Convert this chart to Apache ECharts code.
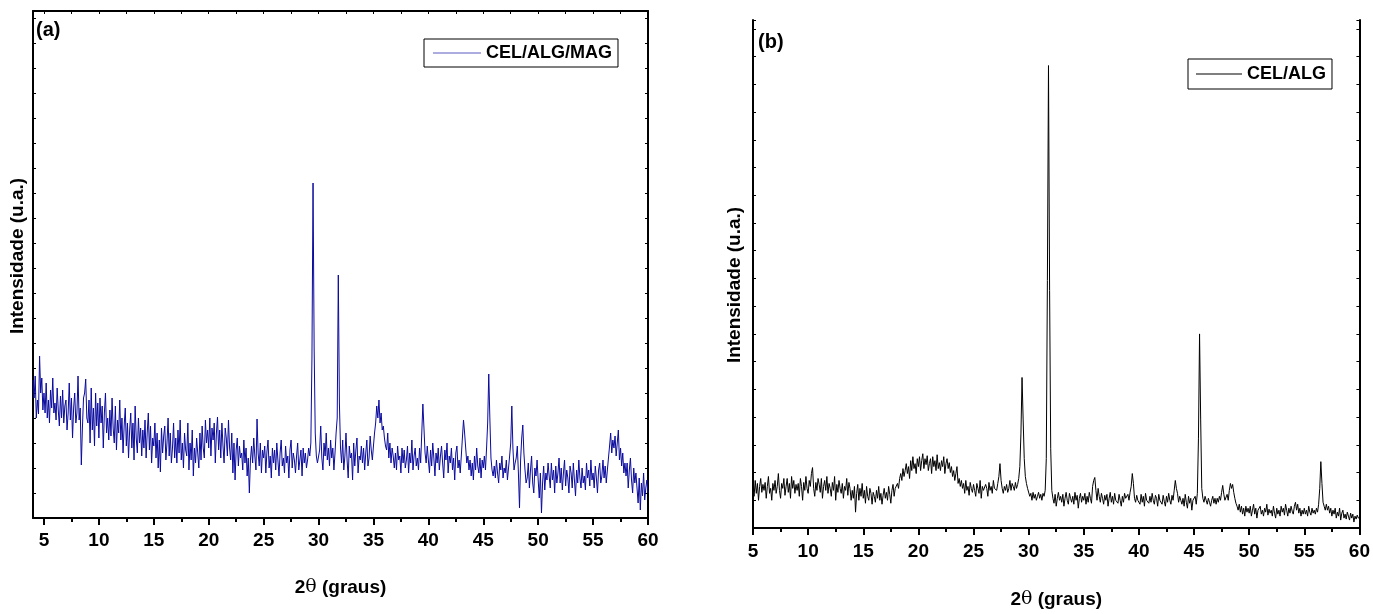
<!DOCTYPE html>
<html>
<head>
<meta charset="utf-8">
<script src="https://cdn.jsdelivr.net/npm/echarts@6.0.0/dist/echarts.min.js"></script>
<style>html,body{margin:0;padding:0;background:#fff;}#c{width:1373px;height:614px;}</style>
</head>
<body>
<div id="c"></div>
<script>
// ---------- DATA ----------
const seriesNameA = 'CEL/ALG/MAG';
const seriesNameB = 'CEL/ALG';
const xStartA = 4.0, xStepA = 0.1;
const xStartB = 5.0, xStepB = 0.1;
const xTickLabelsA = [5,10,15,20,25,30,35,40,45,50,55,60];
const xMinorTicksA = [7.5,12.5,17.5,22.5,27.5,32.5,37.5,42.5,47.5,52.5,57.5];
const xTopTicksA = [5,7.5,10,12.5,15,17.5,20,22.5,25,27.5,30,32.5,35,37.5,40,42.5,45,47.5,50,52.5,55,57.5,60];

// intensity (u.a.), 0.1 degree steps from 4.0 to 60.0
const intensityA = [
138,120,142,100,118,104,162,125,140,108,
125,105,135,100,118,95,128,110,140,105,
115,98,130,108,92,122,100,128,95,112,
118,88,105,135,98,120,80,110,125,95,
105,142,98,110,53,90,120,125,139,100,
95,118,75,130,88,110,72,125,92,115,
80,120,95,112,70,105,125,85,100,78,
108,82,120,90,75,112,68,98,85,118,
78,100,65,92,110,72,95,60,88,105,
70,95,58,112,80,65,100,75,90,62,
88,70,98,60,85,105,68,92,55,80,
72,95,60,85,50,78,46,90,65,82,
92,58,75,100,62,85,55,70,95,60,
80,55,88,65,98,58,75,50,85,68,
62,95,48,75,58,88,42,70,55,80,
65,50,85,58,92,70,60,98,75,88,
70,100,62,90,78,95,55,85,101,68,
88,60,95,72,55,90,80,62,98,70,
58,85,45,75,38,68,80,52,72,60,
65,48,78,55,70,42,60,25,58,72,
55,80,62,48,99,65,52,75,45,68,
60,72,45,66,78,50,62,40,70,55,
68,48,75,58,42,65,78,52,60,45,
72,55,62,40,68,78,50,65,58,45,
62,75,48,58,68,42,70,55,65,50,
58,70,62,75,160,335,170,85,62,55,
55,68,92,60,48,75,62,85,58,70,
52,78,60,70,48,65,85,100,243,115,
70,55,78,48,62,85,58,40,72,60,
65,38,75,52,68,80,45,62,58,72,
55,70,48,65,78,52,60,82,68,58,
72,85,95,112,100,118,95,105,88,92,
80,72,68,85,60,75,55,70,62,50,
65,48,72,58,62,45,70,55,68,50,
58,72,45,65,55,78,48,62,70,52,
60,48,70,55,85,114,90,65,55,72,
58,45,68,52,75,60,42,65,55,70,
48,62,72,55,40,68,58,75,45,62,
55,70,48,60,38,65,72,50,58,45,
62,80,98,85,70,55,62,48,58,42,
55,38,62,48,70,52,45,60,40,58,
50,62,48,70,95,144,100,60,48,42,
52,40,58,45,35,55,48,62,40,50,
45,58,38,50,62,75,112,70,48,55,
60,72,45,10,58,80,93,65,48,35,
40,55,30,48,62,35,25,50,42,58,
38,20,45,5,35,52,28,45,38,55,
42,30,55,38,48,25,52,35,45,60,
35,50,28,45,58,32,48,40,25,52,
45,30,55,38,22,48,35,58,40,30,
50,35,42,28,55,40,48,32,58,38,
45,30,52,40,25,48,55,35,42,58,
40,52,35,48,60,72,85,65,78,70,
82,62,75,88,58,70,52,65,45,55,
42,55,30,48,60,38,25,50,35,45,
30,15,40,8,35,22,45,18,30,38,
25
];

// intensity (u.a.), 0.1 degree steps from 5.0 to 60.0
const intensityB = [
40,32,48,35,45,28,42,50,36,44,
38,46,30,42,52,35,40,28,45,38,
48,35,42,55,38,30,45,40,50,33,
42,50,36,45,30,52,40,48,35,44,
38,45,32,50,42,28,46,38,52,40,
35,48,42,55,61,40,32,46,38,50,
44,36,50,30,42,48,38,52,35,45,
40,32,46,38,52,28,44,36,48,40,
35,45,30,42,38,50,33,46,40,28,
38,30,42,16,35,44,28,40,32,45,
30,38,25,42,32,28,40,35,24,36,
32,26,38,30,42,28,35,24,33,40,
30,36,28,42,34,25,38,44,32,40,
38,45,40,50,55,48,60,52,58,65,
55,62,50,68,58,72,60,65,55,70,
62,72,58,68,75,60,70,64,73,58,
65,70,55,72,62,68,58,74,60,66,
58,68,62,72,55,65,70,60,66,56,
62,52,58,48,55,62,45,50,42,48,
40,45,35,48,38,42,33,46,40,36,
44,38,32,45,40,35,48,30,42,38,
36,44,40,32,46,38,42,35,48,40,
42,38,45,52,65,48,40,35,42,38,
44,36,40,48,38,45,42,38,46,40,
44,50,62,95,152,110,70,52,45,40,
38,32,35,28,36,30,34,28,32,36,
30,34,28,35,32,38,70,250,467,240,
80,38,30,25,34,22,30,36,28,32,
26,34,22,30,36,28,24,35,30,26,
32,24,36,28,33,20,30,35,26,32,
28,35,24,32,26,36,30,25,42,48,
51,38,28,40,32,26,35,30,24,33,
28,34,22,30,36,26,32,24,35,28,
30,25,34,28,22,32,26,35,30,28,
34,28,36,42,55,45,30,26,33,28,
30,24,34,26,32,22,35,28,30,25,
32,26,35,28,24,33,30,22,34,28,
30,24,33,27,22,32,26,35,28,24,
33,28,38,48,40,35,26,32,28,24,
30,22,34,26,20,32,25,30,18,28,
26,32,24,35,90,196,110,40,30,26,
32,28,24,30,26,22,28,32,25,30,
24,30,26,32,28,36,43,34,28,30,
34,28,38,45,40,44,36,30,25,22,
18,24,16,22,14,20,12,22,16,20,
15,22,12,18,24,14,20,10,18,16,
22,14,18,12,20,16,24,13,19,15,
18,12,22,15,10,20,14,18,12,22,
16,20,13,24,18,12,20,15,22,17,
14,22,26,18,24,15,20,12,18,14,
20,14,18,12,22,16,13,20,15,18,
14,20,16,24,40,67,45,26,22,18,
24,18,22,15,20,12,18,14,20,10,
16,12,20,8,15,18,10,14,9,16,
12,8,15,10,14,6,12,9,13,10,
11
];

// ---------- CHART ----------
const FONT = '"Liberation Sans", Arial, sans-serif';
const pairsA = intensityA.map((v, i) => [+(xStartA + i * xStepA).toFixed(2), v]);
const pairsB = intensityB.map((v, i) => [+(xStartB + i * xStepB).toFixed(2), v]);

const axisLineStyle = { show: true, lineStyle: { color: '#000', width: 2 } };
const labelStyle = { color: '#000', fontFamily: FONT, fontWeight: 'bold', fontSize: 19 };
const xName = '{b|2}{t|θ}{b| (graus)}';
const xNameStyle = {
  rich: {
    b: { fontFamily: FONT, fontWeight: 'bold', fontSize: 19, color: '#000' },
    t: { fontFamily: '"DejaVu Serif", serif', fontWeight: 'normal', fontSize: 19, color: '#000' }
  }
};
const legendLineIcon = 'path://M0,0 L48,0 L48,1 L0,1 Z';

const chart = echarts.init(document.getElementById('c'), null, { renderer: 'canvas' });
chart.setOption({
  animation: false,
  backgroundColor: '#fff',
  grid: [
    { left: 33, top: 11, width: 615, height: 507 },
    { left: 753, top: 20, width: 608, height: 513 }
  ],
  xAxis: [
    { gridIndex: 0, type: 'value', position: 'bottom', min: 4, max: 60,
      axisLine: axisLineStyle,
      axisTick: { show: true, inside: false, length: 7, lineStyle: { width: 2, color: '#000' }, customValues: xTickLabelsA },
      axisLabel: Object.assign({ margin: 13, customValues: xTickLabelsA }, labelStyle),
      splitLine: { show: false },
      name: xName, nameLocation: 'middle', nameGap: 60, nameTextStyle: xNameStyle },
    { gridIndex: 0, type: 'value', position: 'bottom', min: 4, max: 60,
      axisLine: { show: false },
      axisTick: { show: true, inside: false, length: 4, lineStyle: { width: 2, color: '#000' }, customValues: xMinorTicksA },
      axisLabel: { show: false }, splitLine: { show: false } },
    { gridIndex: 0, type: 'value', position: 'top', min: 4, max: 60,
      axisLine: axisLineStyle,
      axisTick: { show: true, inside: true, length: 3, lineStyle: { width: 1, color: '#000' }, customValues: xTopTicksA },
      axisLabel: { show: false }, splitLine: { show: false } },
    { gridIndex: 1, type: 'value', position: 'bottom', min: 5, max: 60, interval: 5,
      axisLine: axisLineStyle,
      axisTick: { show: true, inside: false, length: 7, lineStyle: { width: 2, color: '#000' } },
      minorTick: { show: true, splitNumber: 2, length: 4, lineStyle: { width: 2, color: '#000' } },
      axisLabel: Object.assign({ margin: 14 }, labelStyle),
      splitLine: { show: false },
      name: xName, nameLocation: 'middle', nameGap: 62, nameTextStyle: xNameStyle },
    { gridIndex: 1, type: 'value', position: 'top', min: 5, max: 60, interval: 2.5,
      axisLine: axisLineStyle,
      axisTick: { show: true, inside: true, length: 3, lineStyle: { width: 1, color: '#000' } },
      axisLabel: { show: false }, splitLine: { show: false } }
  ],
  yAxis: [
    { gridIndex: 0, type: 'value', position: 'left', min: 0, max: 507, interval: 25,
      axisLine: axisLineStyle,
      axisTick: { show: true, inside: true, length: 3, lineStyle: { width: 1, color: '#000' } },
      axisLabel: { show: false }, splitLine: { show: false } },
    { gridIndex: 0, type: 'value', position: 'right', min: 0, max: 507, interval: 25,
      axisLine: axisLineStyle,
      axisTick: { show: true, inside: true, length: 3, lineStyle: { width: 1, color: '#000' } },
      axisLabel: { show: false }, splitLine: { show: false } },
    { gridIndex: 1, type: 'value', position: 'left', min: 0, max: 513, interval: 28,
      axisLine: axisLineStyle,
      axisTick: { show: true, inside: true, length: 3, lineStyle: { width: 1, color: '#000' } },
      axisLabel: { show: false }, splitLine: { show: false } },
    { gridIndex: 1, type: 'value', position: 'right', min: 0, max: 513, interval: 28,
      axisLine: axisLineStyle,
      axisTick: { show: true, inside: true, length: 3, lineStyle: { width: 1, color: '#000' } },
      axisLabel: { show: false }, splitLine: { show: false } }
  ],
  legend: [
    { data: [{ name: seriesNameA, icon: legendLineIcon }], left: 424, top: 39, orient: 'horizontal',
      backgroundColor: '#fff', borderColor: '#000', borderWidth: 1, borderRadius: 0,
      padding: [5, 6, 5, 9], itemWidth: 48, itemHeight: 1, itemGap: 6,
      itemStyle: { color: '#5a5ac4', borderWidth: 0 },
      textStyle: { fontFamily: FONT, fontWeight: 'bold', fontSize: 18, color: '#000', lineHeight: 18 } },
    { data: [{ name: seriesNameB, icon: legendLineIcon }], left: 1188, top: 59, orient: 'horizontal',
      backgroundColor: '#fff', borderColor: '#000', borderWidth: 1, borderRadius: 0,
      padding: [6, 6, 6, 8], itemWidth: 46, itemHeight: 1, itemGap: 6,
      itemStyle: { color: '#000', borderWidth: 0 },
      textStyle: { fontFamily: FONT, fontWeight: 'bold', fontSize: 18, color: '#000', lineHeight: 18 } }
  ],
  series: [
    { name: seriesNameA, type: 'line', xAxisIndex: 0, yAxisIndex: 0, data: pairsA,
      symbol: 'none', showSymbol: false, lineStyle: { color: '#0a0a9e', width: 1 }, itemStyle: { color: '#0a0a9e' } },
    { name: seriesNameB, type: 'line', xAxisIndex: 3, yAxisIndex: 2, data: pairsB,
      symbol: 'none', showSymbol: false, lineStyle: { color: '#000', width: 1 }, itemStyle: { color: '#000' } }
  ],
  graphic: [
    { type: 'text', left: 36, top: 20, style: { text: '(a)', font: 'bold 20px ' + FONT, fill: '#000' } },
    { type: 'text', left: 758, top: 32, style: { text: '(b)', font: 'bold 20px ' + FONT, fill: '#000' } },
    { type: 'text', x: 18, y: 256, rotation: Math.PI / 2,
      style: { text: 'Intensidade (u.a.)', font: 'bold 19px ' + FONT, fill: '#000', align: 'center', verticalAlign: 'middle' } },
    { type: 'text', x: 735, y: 285, rotation: Math.PI / 2,
      style: { text: 'Intensidade (u.a.)', font: 'bold 19px ' + FONT, fill: '#000', align: 'center', verticalAlign: 'middle' } }
  ]
});
</script>
</body>
</html>
